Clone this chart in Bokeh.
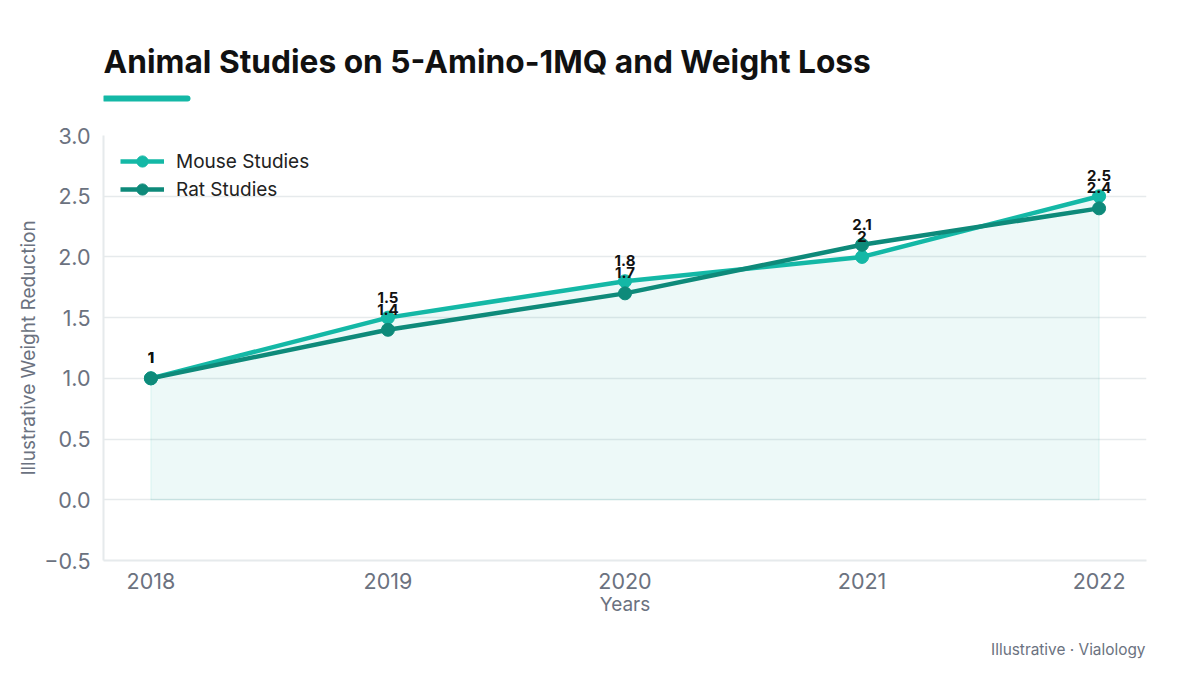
from bokeh.plotting import figure
from bokeh.layouts import column
from bokeh.models import FixedTicker, Range1d, Legend, LegendItem, ColumnDataSource, LabelSet
from bokeh.core.properties import value
from bokeh.embed import file_html
from bokeh.resources import INLINE

# Data
years = [2018, 2019, 2020, 2021, 2022]
mouse = [1.0, 1.5, 1.8, 2.0, 2.5]
rat = [1.0, 1.4, 1.7, 2.1, 2.4]
y_ticks = [-0.5, 0.0, 0.5, 1.0, 1.5, 2.0, 2.5, 3.0]

title_text = "Animal Studies on 5-Amino-1MQ and Weight Loss"
footer_text = "Illustrative \u00b7 Vialology"

MOUSE_C = "#14b8a6"
RAT_C = "#0e8a7a"
GRID_C = "#e6eaec"
TICK_C = "#6b7280"
FONT = "Inter"

W = 1200
HEAD_H, MAIN_H, FOOT_H = 115, 510, 50
FRAME_L, FRAME_R = 103, 1146   # page pixels spanned by the aligned plot frames
FRAME_H = MAIN_H - 20 - 65


def blank(height):
    """A bare strip whose x coordinates are page pixels, y measured from its top."""
    f = figure(width=W, height=height, output_backend="svg", toolbar_location=None,
               x_range=Range1d(FRAME_L, FRAME_R), y_range=Range1d(height, 0),
               min_border_left=FRAME_L, min_border_right=W - FRAME_R,
               min_border_top=0, min_border_bottom=0,
               x_axis_location=None, y_axis_location=None)
    f.grid.visible = False
    f.outline_line_color = None
    f.background_fill_color = "white"
    f.border_fill_color = "white"
    return f


# Header: title and accent bar
head = blank(HEAD_H)
head.text(x=[103], y=[61], text=[title_text], text_font=value(FONT), text_font_size="31.7px",
          text_font_style="bold", text_color="#111111",
          text_baseline="middle", text_align="left")
head.line(x=[104, 187], y=[98, 98], line_color=MOUSE_C, line_width=6, line_cap="round")

# Main chart
p = figure(width=W, height=MAIN_H, output_backend="svg", toolbar_location=None,
           x_range=Range1d(2017.80, 2022.20), y_range=Range1d(-0.5, 3.0),
           min_border_left=FRAME_L, min_border_right=W - FRAME_R,
           min_border_top=20, min_border_bottom=65)
p.outline_line_color = None
p.background_fill_color = "white"
p.border_fill_color = "white"

# Shaded area under the mouse series
poly_x = [years[0]] + years + [years[-1]]
poly_y = [0.0] + mouse + [0.0]
p.patch(poly_x, poly_y, fill_color=MOUSE_C, fill_alpha=0.08,
        line_color=MOUSE_C, line_alpha=0.12, line_width=1)

src_m = ColumnDataSource(dict(x=years, y=mouse, t=[f"{v:g}" for v in mouse]))
src_r = ColumnDataSource(dict(x=years, y=rat, t=[f"{v:g}" for v in rat]))

lm = p.line("x", "y", source=src_m, line_color=MOUSE_C, line_width=4.5)
cm = p.scatter("x", "y", source=src_m, size=13, fill_color=MOUSE_C, line_color=MOUSE_C)
lr = p.line("x", "y", source=src_r, line_color=RAT_C, line_width=4.5)
cr = p.scatter("x", "y", source=src_r, size=13, fill_color=RAT_C, line_color=RAT_C)

for s in (src_m, src_r):
    p.add_layout(LabelSet(x="x", y="y", text="t", source=s, y_offset=15,
                          text_align="center", text_baseline="bottom",
                          text_font=value(FONT), text_font_size="15px", text_font_style="bold",
                          text_color="#111111"))

# Legend box: two 28px rows, top edge 4px below the frame top
LEG_PAD, LEG_ROW = 4, 28
leg_h = 2 * LEG_PAD + 2 * LEG_ROW
legend = Legend(items=[LegendItem(label="Mouse Studies", renderers=[lm, cm]),
                       LegendItem(label="Rat Studies", renderers=[lr, cr])],
                location=(17, FRAME_H - 4 - leg_h),
                background_fill_alpha=0, border_line_color=None,
                label_text_font=FONT, label_text_font_size="19px", label_text_color="#222222",
                glyph_width=44, glyph_height=LEG_ROW, spacing=0, padding=LEG_PAD, margin=0,
                label_standoff=12)
p.add_layout(legend)

# Axes
p.xaxis.ticker = FixedTicker(ticks=years)
p.yaxis.ticker = FixedTicker(ticks=y_ticks)
p.yaxis.major_label_overrides = {v: (f"{v:.1f}" if v >= 0 else "\u2212" + f"{-v:.1f}") for v in y_ticks}
for ax in (p.xaxis, p.yaxis):
    ax.axis_line_color = GRID_C
    ax.axis_line_width = 2
    ax.major_tick_line_color = None
    ax.minor_tick_line_color = None
    ax.major_label_text_font = FONT
    ax.major_label_text_font_size = "21.5px"
    ax.major_label_text_color = TICK_C
    ax.axis_label_text_font = FONT
    ax.axis_label_text_font_size = "19px"
    ax.axis_label_text_font_style = "normal"
    ax.axis_label_text_color = TICK_C
p.xaxis.axis_label = "Years"
p.yaxis.axis_label = "Illustrative Weight Reduction"
p.xaxis.major_label_standoff = 6
p.yaxis.major_label_standoff = 7
p.xaxis.axis_label_standoff = 1
p.yaxis.axis_label_standoff = 1

p.xgrid.grid_line_color = None
p.ygrid.grid_line_color = GRID_C
p.ygrid.grid_line_width = 1.5

# Footer: source note
foot = blank(FOOT_H)
foot.text(x=[1145], y=[24], text=[footer_text], text_font=value(FONT), text_font_size="15.4px",
          text_color=TICK_C, text_baseline="middle", text_align="right")

page = column(head, p, foot, spacing=0)
open("out.html", "w").write(file_html(page, INLINE))
